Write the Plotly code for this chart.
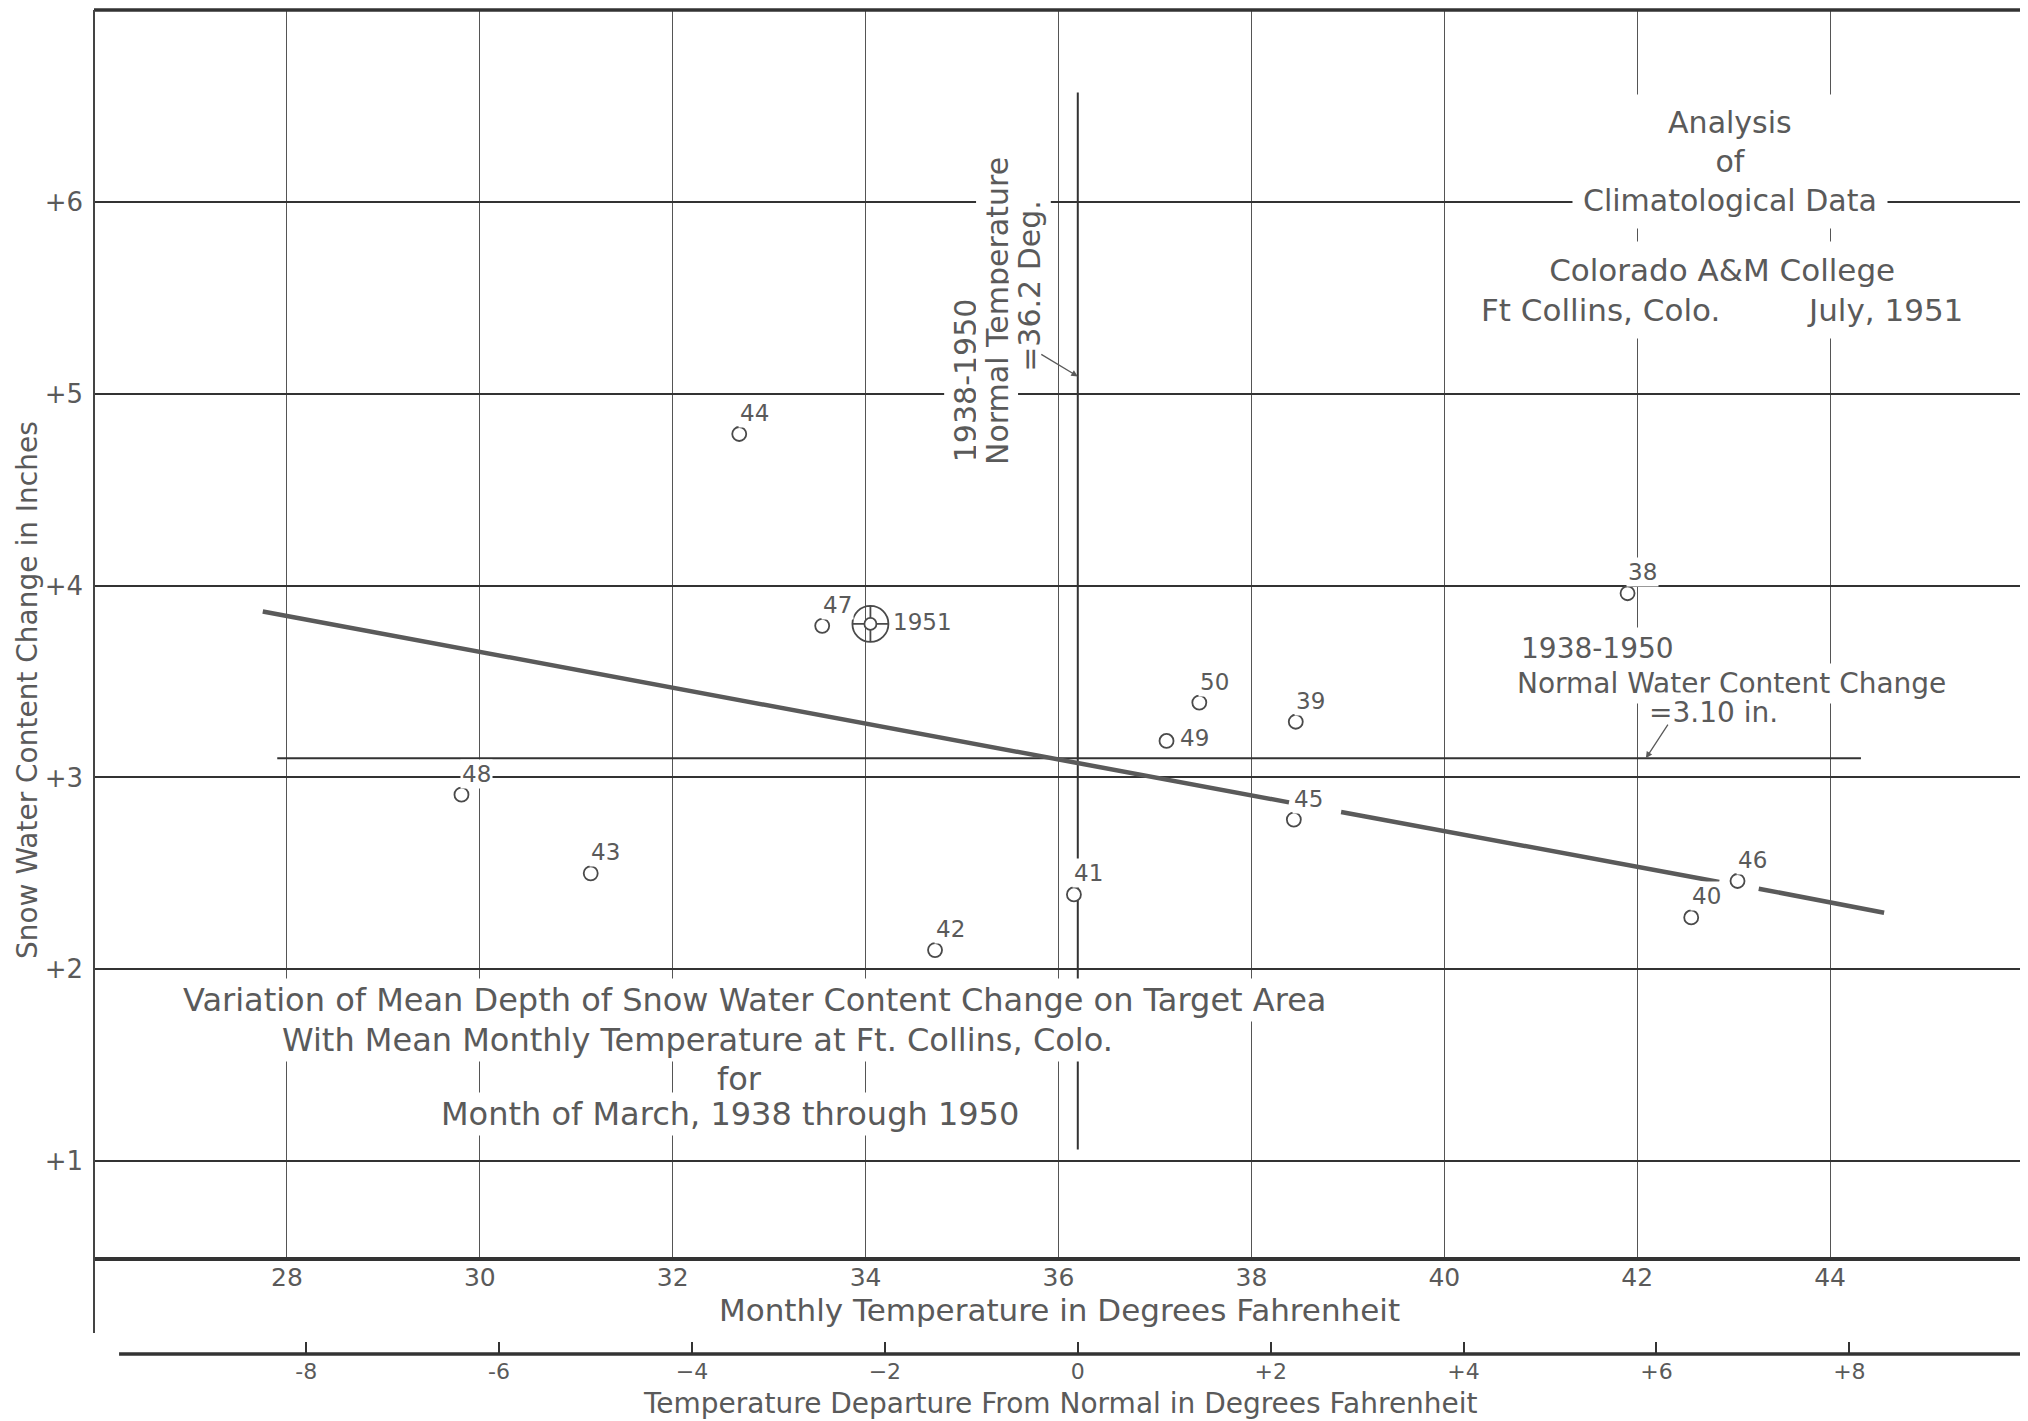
import plotly.graph_objects as go

# ---------------- data ----------------
years = ["38", "39", "40", "41", "42", "43", "44", "45", "46", "47", "48", "49", "50"]
march_temp_f = [41.90, 38.46, 42.56, 36.16, 34.72, 31.15, 32.69, 38.44, 43.04, 33.55, 29.81, 37.12, 37.46]
water_change_in = [3.96, 3.29, 2.27, 2.39, 2.10, 2.50, 4.79, 2.78, 2.46, 3.79, 2.91, 3.19, 3.39]

year_1951 = ["1951"]
temp_1951 = [34.05]
water_1951 = [3.80]

# trend line as drawn on the sheet (broken where labels sit)
trend_x = [27.75, 38.39, None, 38.93, 42.85, None, 43.26, 44.56]
trend_y = [3.865, 2.87, None, 2.82, 2.455, None, 2.42, 2.295]

normal_temp = 36.2
normal_water = 3.10
normal_temp_line_y = [1.06, 6.57]
normal_water_line_x = [27.9, 44.32]

temp_ticks = [28, 30, 32, 34, 36, 38, 40, 42, 44]
temp_tick_text = ["28", "30", "32", "34", "36", "38", "40", "42", "44"]
departure_ticks = [-8, -6, -4, -2, 0, 2, 4, 6, 8]
departure_tick_text = ["-8", "-6", "\u22124", "\u22122", "0", "+2", "+4", "+6", "+8"]
water_ticks = [1, 2, 3, 4, 5, 6]
water_tick_text = ["+1", "+2", "+3", "+4", "+5", "+6"]

x_range = [26, 46]
y_range = [0.5, 7]

# ---------------- styling ----------------
FONT = "DejaVu Sans"
TXT = "#5a5a5a"
LINE = "#333333"
MARK = "#4a4a4a"

fig = go.Figure()

fig.add_trace(go.Scatter(
    x=normal_water_line_x, y=[normal_water, normal_water], mode="lines",
    line=dict(color=LINE, width=2), hoverinfo="skip", showlegend=False))
fig.add_trace(go.Scatter(
    x=[normal_temp, normal_temp], y=normal_temp_line_y, mode="lines",
    line=dict(color=LINE, width=2), hoverinfo="skip", showlegend=False))
fig.add_trace(go.Scatter(
    x=trend_x, y=trend_y, mode="lines", connectgaps=False,
    line=dict(color="#5a5a5a", width=4.5), hoverinfo="skip", showlegend=False))
fig.add_trace(go.Scatter(
    x=march_temp_f, y=water_change_in, mode="markers", text=years,
    marker=dict(symbol="circle", size=14, color="white",
                line=dict(color=MARK, width=1.8)),
    showlegend=False))
fig.add_trace(go.Scatter(
    x=temp_1951, y=water_1951, mode="markers", text=year_1951,
    marker=dict(symbol="circle-cross-open", size=36, color=MARK,
                line=dict(width=1.8)),
    showlegend=False))
fig.add_trace(go.Scatter(
    x=temp_1951, y=water_1951, mode="markers", hoverinfo="skip",
    marker=dict(symbol="circle", size=12, color="white",
                line=dict(color=MARK, width=1.8)),
    showlegend=False))
# anchor trace for the departure axis
fig.add_trace(go.Scatter(
    x=[0], y=[normal_water], xaxis="x2", yaxis="y", mode="markers",
    marker=dict(size=1, opacity=0), hoverinfo="skip", showlegend=False))

annotations = []

# year labels
SIDE_LABELS = {"49"}
for yr, t, w in zip(years, march_temp_f, water_change_in):
    if yr in SIDE_LABELS:
        annotations.append(dict(x=t, y=w, text=yr, showarrow=False, xanchor="left",
                                yanchor="middle", xshift=11, yshift=3,
                                font=dict(size=23, color=TXT, family=FONT),
                                bgcolor="white", borderpad=1))
    else:
        annotations.append(dict(x=t, y=w, text=yr, showarrow=False, xanchor="center",
                                yanchor="middle", xshift=15, yshift=21,
                                font=dict(size=23, color=TXT, family=FONT),
                                bgcolor="white", borderpad=1))
for yr, t, w in zip(year_1951, temp_1951, water_1951):
    annotations.append(dict(x=t, y=w, text=yr, showarrow=False, xanchor="left",
                            yanchor="middle", xshift=21, yshift=2,
                            font=dict(size=23, color=TXT, family=FONT)))


def note(text, x, y, size=28, angle=0, xanchor="center", pad=6, bg="white"):
    annotations.append(dict(x=x, y=y, xref="x", yref="y", text=text, showarrow=False,
                            textangle=angle, xanchor=xanchor, yanchor="middle",
                            font=dict(size=size, color=TXT, family=FONT),
                            bgcolor=bg, borderpad=pad))


# normal temperature note (vertical)
note("1938-1950", 35.03, 5.07, size=30, angle=-90, pad=3)
note("Normal Temperature", 35.36, 5.43, size=30, angle=-90, pad=3)
note("=36.2 Deg.", 35.70, 5.56, size=30, angle=-90, pad=3)
annotations.append(dict(x=normal_temp, y=5.09, ax=-38, ay=-23, text="", showarrow=True,
                        arrowhead=2, arrowsize=1, arrowwidth=1.3, arrowcolor=TXT))

# header block
note("Analysis<br>of<br>Climatological Data", 42.96, 6.21, size=30, pad=10)
note("Colorado A&M College<br>Ft Collins, Colo." + "\u00a0" * 9 + "July, 1951",
     42.88, 5.54, size=31, pad=10)

# normal water content note
note("1938-1950", 40.74, 3.67, xanchor="left", pad=4)
note("Normal Water Content Change", 42.98, 3.49, pad=3)
note("=3.10 in.", 42.79, 3.34, pad=3)
annotations.append(dict(x=42.09, y=normal_water, ax=23, ay=-35, text="", showarrow=True,
                        arrowhead=2, arrowsize=1, arrowwidth=1.3, arrowcolor=TXT))

# chart caption
note("Variation of Mean Depth of Snow Water Content Change on Target Area", 32.85, 1.84,
     size=32, pad=2)
note("With Mean Monthly Temperature at Ft. Collins, Colo.", 32.26, 1.63, size=32, pad=2)
note("for", 32.69, 1.43, size=32, pad=2)
note("Month of March, 1938 through 1950", 32.59, 1.245, size=32, pad=2)

# axis titles
annotations.append(dict(xref="paper", yref="paper", x=-0.0347, y=0.5076,
                        text="Snow Water Content Change in Inches", textangle=-90,
                        showarrow=False, xanchor="center", yanchor="middle",
                        font=dict(size=28, color=TXT, family=FONT)))
annotations.append(dict(xref="paper", yref="paper", x=0.5005, y=0.059,
                        text="Monthly Temperature in Degrees Fahrenheit",
                        showarrow=False, xanchor="center", yanchor="middle",
                        font=dict(size=31, color=TXT, family=FONT)))
annotations.append(dict(xref="paper", yref="paper", x=0.501, y=-0.0094,
                        text="Temperature Departure From Normal in Degrees Fahrenheit",
                        showarrow=False, xanchor="center", yanchor="middle",
                        font=dict(size=28, color=TXT, family=FONT)))

shapes = [
    dict(type="line", xref="paper", yref="paper", x0=0, x1=1, y0=1, y1=1,
         line=dict(color=LINE, width=3.5)),
    dict(type="line", xref="paper", yref="paper", x0=0, x1=0, y0=1, y1=0.042,
         line=dict(color="#444444", width=2)),
    dict(type="line", xref="paper", yref="paper", x0=1, x1=1, y0=1, y1=0.0268,
         line=dict(color="#444444", width=2)),
    dict(type="line", xref="paper", yref="paper", x0=0.013, x1=1, y0=0.0268, y1=0.0268,
         line=dict(color=LINE, width=3.5)),
]

# the page body adds an 8px offset, so the figure is sized/margined to compensate
fig.update_layout(
    width=2020, height=1413,
    margin=dict(l=86, r=5, t=2, b=30),
    paper_bgcolor="white", plot_bgcolor="white",
    font=dict(family=FONT, color=TXT),
    showlegend=False,
    annotations=annotations,
    shapes=shapes,
    xaxis=dict(range=x_range, domain=[0, 1], anchor="y",
               tickmode="array", tickvals=temp_ticks, ticktext=temp_tick_text,
               showgrid=True, gridcolor="#555555", gridwidth=1,
               zeroline=False, showline=True, linecolor=LINE, linewidth=3.5,
               ticks="", ticklabelstandoff=-5,
               tickfont=dict(size=25, color=TXT, family=FONT), automargin=False),
    yaxis=dict(range=y_range, domain=[0.097, 1], anchor="x",
               tickmode="array", tickvals=water_ticks, ticktext=water_tick_text,
               showgrid=True, gridcolor="#333333", gridwidth=2,
               zeroline=False, showline=False, ticks="", ticklabelstandoff=10,
               tickfont=dict(size=26, color=TXT, family=FONT), automargin=False),
    xaxis2=dict(overlaying="x", anchor="free", position=0.0268, side="bottom",
                range=[x_range[0] - normal_temp, x_range[1] - normal_temp],
                tickmode="array", tickvals=departure_ticks, ticktext=departure_tick_text,
                showgrid=False, zeroline=False, showline=False,
                ticks="inside", ticklen=12, tickwidth=1.5, tickcolor=LINE,
                ticklabelstandoff=2,
                tickfont=dict(size=22, color=TXT, family=FONT), automargin=False),
)

fig.write_html("out.html")
